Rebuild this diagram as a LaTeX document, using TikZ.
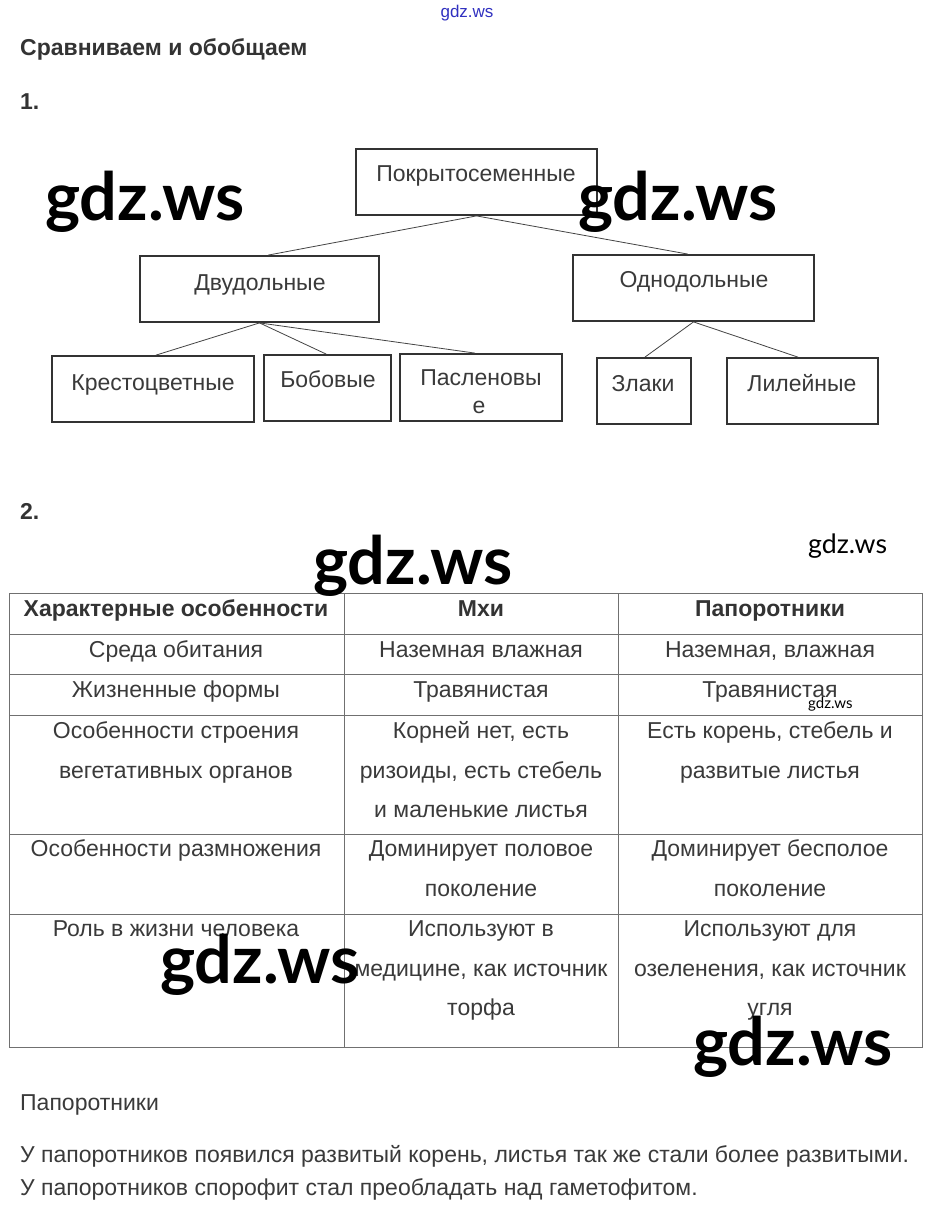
\documentclass[tikz,border=0pt]{standalone}
\usepackage{fontspec}
\setmainfont{Liberation Sans}
\newfontfamily\wmfont{Lato}
\usetikzlibrary{calc}
\definecolor{txtc}{HTML}{3A3A3A}
\definecolor{boxc}{HTML}{333333}
\definecolor{linec}{HTML}{444444}
\definecolor{tabc}{HTML}{707070}
\definecolor{linkc}{HTML}{3030C0}
\tikzset{
  box/.style={draw=boxc, line width=1.8pt, rectangle, inner sep=0pt},
  lbl/.style={font=\fontsize{23}{27}\selectfont, text=txtc, anchor=base, inner sep=0pt},
  lbll/.style={lbl, anchor=base west},
  hdr/.style={font=\fontsize{23}{27}\selectfont\bfseries, text=boxc, anchor=base, inner sep=0pt},
  hdrl/.style={hdr, anchor=base west},
  conn/.style={draw=linec, line width=0.8pt},
  tab/.style={draw=tabc, line width=1pt},
  wm/.style={font=\wmfont\bfseries\fontsize{66.5}{70}\selectfont, text=black, anchor=base west, inner sep=0pt},
  wms/.style={font=\wmfont\fontsize{26.7}{28}\selectfont, text=black, anchor=base west, inner sep=0pt},
  wmt/.style={font=\wmfont\fontsize{15}{16}\selectfont, text=black, anchor=base west, inner sep=0pt},
}
\begin{document}
\begin{tikzpicture}[x=1pt,y=-1pt]
\useasboundingbox (0,0) rectangle (934,1220);
\fill[white] (0,0) rectangle (934,1220);

% header texts
\node[font=\fontsize{17}{19}\selectfont, text=linkc, anchor=base, inner sep=0pt] (link) at (467,18) {gdz.ws};
\node[hdrl] (title) at (20,56) {Сравниваем и обобщаем};
\node[hdrl] (n1) at (20,110) {1.};
\node[hdrl] (n2) at (20,519) {2.};

% tree boxes
\node[box, minimum width=241pt, minimum height=66pt] (pk) at (476.5,182) {};
\node[box, minimum width=239pt, minimum height=66pt] (dv) at (259.5,289) {};
\node[box, minimum width=241pt, minimum height=66pt] (od) at (693.5,288) {};
\node[box, minimum width=202pt, minimum height=66pt] (kr) at (153,389) {};
\node[box, minimum width=127pt, minimum height=66pt] (bb) at (327.5,388) {};
\node[box, minimum width=162pt, minimum height=67pt] (ps) at (481,387.5) {};
\node[box, minimum width=94pt, minimum height=66pt] (zl) at (644,391) {};
\node[box, minimum width=151pt, minimum height=66pt] (ll) at (802.5,391) {};

% tree texts
\node[lbl] (pkt) at (476,181.5) {Покрытосеменные};
\node[lbl] (dvt) at (260,290.5) {Двудольные};
\node[lbl] (odt) at (694,287.5) {Однодольные};
\node[lbl] (krt) at (153,390.5) {Крестоцветные};
\node[lbl] (bbt) at (328,387.5) {Бобовые};
\node[lbl] (pst) at (481,385.5) {Пасленовы};
\node[lbl] (pst2) at (479,413) {е};
\node[lbl] (zlt) at (643,391.5) {Злаки};
\node[lbl] (llt) at (802,391.5) {Лилейные};

% connectors
\draw[conn] (pk.south) -- ($(dv.north west)!0.536!(dv.north east)$);
\draw[conn] (pk.south) -- ($(od.north west)!0.477!(od.north east)$);
\draw[conn] (dv.south) -- ($(kr.north west)!0.515!(kr.north east)$);
\draw[conn] (dv.south) -- ($(bb.north west)!0.49!(bb.north east)$);
\draw[conn] (dv.south) -- ($(ps.north west)!0.463!(ps.north east)$);
\draw[conn] (od.south) -- ($(zl.north west)!0.51!(zl.north east)$);
\draw[conn] (od.south) -- ($(ll.north west)!0.47!(ll.north east)$);

% table grid
\draw[tab] (9,593) rectangle (922,1047);
\draw[tab] (344,593) -- (344,1047);
\draw[tab] (618,593) -- (618,1047);
\foreach \yy in {634,674,715,834,914} \draw[tab] (9,\yy) -- (922,\yy);

% table header
\node[hdr] (h1) at (176,616.5) {Характерные особенности};
\node[hdr] (h2) at (481,616.5) {Мхи};
\node[hdr] (h3) at (770,616.5) {Папоротники};

% column 1
\node[lbl] (a1) at (176,657.5) {Среда обитания};
\node[lbl] (a2) at (176,697.5) {Жизненные формы};
\node[lbl] (a3) at (176,738.5) {Особенности строения};
\node[lbl] (a3b) at (176,778) {вегетативных органов};
\node[lbl] (a4) at (176,856.5) {Особенности размножения};
\node[lbl] (a5) at (176,936.5) {Роль в жизни человека};

% column 2
\node[lbl] (b1) at (481,657.5) {Наземная влажная};
\node[lbl] (b2) at (481,697.5) {Травянистая};
\node[lbl] (b3) at (481,738.5) {Корней нет, есть};
\node[lbl] (b3b) at (481,778) {ризоиды, есть стебель};
\node[lbl] (b3c) at (481,817.5) {и маленькие листья};
\node[lbl] (b4) at (481,856.5) {Доминирует половое};
\node[lbl] (b4b) at (481,896) {поколение};
\node[lbl] (b5) at (481,936.5) {Используют в};
\node[lbl] (b5b) at (481,976) {медицине, как источник};
\node[lbl] (b5c) at (481,1015.5) {торфа};

% column 3
\node[lbl] (c1) at (770,657.5) {Наземная, влажная};
\node[lbl] (c2) at (770,697.5) {Травянистая};
\node[lbl] (c3) at (770,738.5) {Есть корень, стебель и};
\node[lbl] (c3b) at (770,778) {развитые листья};
\node[lbl] (c4) at (770,856.5) {Доминирует бесполое};
\node[lbl] (c4b) at (770,896) {поколение};
\node[lbl] (c5) at (770,936.5) {Используют для};
\node[lbl] (c5b) at (770,976) {озеленения, как источник};
\node[lbl] (c5c) at (770,1015.5) {угля};

% bottom text
\node[lbll] (p0) at (20,1110) {Папоротники};
\node[lbll] (p1) at (20,1162) {У папоротников появился развитый корень, листья так же стали более развитыми.};
\node[lbll] (p2) at (20,1195) {У папоротников спорофит стал преобладать над гаметофитом.};

% watermarks
\node[wm] (w1) at (45,220) {gdz.ws};
\node[wm] (w2) at (578,220) {gdz.ws};
\node[wm] (w3) at (313,584) {gdz.ws};
\node[wm] (w4) at (160,983) {gdz.ws};
\node[wm] (w5) at (693,1065) {gdz.ws};
\node[wms] (w6) at (808,553) {gdz.ws};
\node[wmt] (w7) at (808,708) {gdz.ws};
\end{tikzpicture}
\end{document}
